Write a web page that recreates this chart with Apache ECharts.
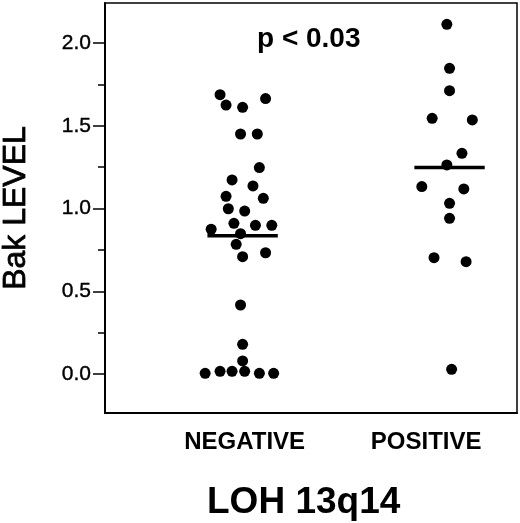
<!DOCTYPE html>
<html>
<head>
<meta charset="utf-8">
<script src="https://cdn.jsdelivr.net/npm/echarts@6/dist/echarts.min.js"></script>
<style>html,body{margin:0;padding:0;background:#fff}#c{width:520px;height:523px}</style>
</head>
<body>
<div id="c"></div>
<script>
// ---- data ----
var categories = ['NEGATIVE', 'POSITIVE'];
var negValues = [1.689,1.626,1.612,1.665,1.451,1.451,1.248,1.173,1.137,1.074,1.062,0.999,0.985,0.875,0.911,0.899,0.899,0.848,0.784,0.709,0.733,0.417,0.179,0.079,0.004,0.016,0.016,0.016,0.004,0.004];
var negJitter = [-0.109,-0.080,0,0.111,-0.010,0.071,0.081,-0.051,0.050,-0.080,0.100,-0.069,0.010,-0.152,-0.042,0.062,0.141,-0.010,-0.031,0,0.111,-0.010,0,0,-0.181,-0.109,-0.051,0.010,0.081,0.150];
var posValues = [2.114,1.848,1.713,1.546,1.536,1.334,1.264,1.133,1.119,1.032,0.941,0.703,0.679,0.028];
var posJitter = [-0.013,0,0,-0.084,0.110,0.060,-0.013,-0.134,0.069,0,0,-0.075,0.080,0.010];
var medians = [0.836, 1.248];
var yMajorTicks = [0, 0.5, 1.0, 1.5, 2.0];
var yMinorTicks = [0.25, 0.75, 1.25, 1.75];
var pText = 'p < 0.03';
var xTitle = 'LOH 13q14';
var yTitle = 'Bak LEVEL';

// ---- layout constants ----
var groupPos = [1, 2];
var labelPos = [1.01, 1.887];
var medianHalf = 0.17;

function pts(vals, jit, g) {
  return vals.map(function (v, i) { return [groupPos[g] + jit[i], v]; });
}
function med(g) {
  return [[groupPos[g] - medianHalf, medians[g]], [groupPos[g] + medianHalf, medians[g]]];
}

var chart = echarts.init(document.getElementById('c'));
chart.setOption({
  animation: false,
  grid: { left: 105, right: 3, top: 3, bottom: 110, containLabel: false, outerBoundsMode: 'none',
    show: true, borderColor: '#000', borderWidth: 1.5, backgroundColor: 'transparent' },
  xAxis: {
    type: 'value', min: 0.335, max: 2.326,
    axisLine: { show: true, onZero: false, lineStyle: { color: '#000', width: 2 } },
    axisTick: { show: false },
    splitLine: { show: false },
    axisLabel: {
      customValues: labelPos,
      margin: 17,
      fontFamily: 'Liberation Sans', fontWeight: 'bold', fontSize: 24, color: '#000',
      formatter: function (v) { return v < 1.5 ? categories[0] : categories[1]; }
    }
  },
  yAxis: [{
    type: 'value', min: -0.236, max: 2.243,
    axisLine: { show: true, onZero: false, lineStyle: { color: '#000', width: 2 } },
    axisTick: { show: true, customValues: yMajorTicks, length: 12, lineStyle: { color: '#000', width: 1.5 } },
    splitLine: { show: false },
    axisLabel: { customValues: yMajorTicks, margin: 14, fontFamily: 'Liberation Sans', fontSize: 21, color: '#000',
      textBorderColor: '#000', textBorderWidth: 0.4,
      formatter: function (v) { return v.toFixed(1); } },
    name: yTitle, nameLocation: 'middle', nameGap: 73,
    nameTextStyle: { fontFamily: 'Liberation Sans', fontSize: 32, color: '#000', textBorderColor: '#000', textBorderWidth: 0.8 }
  }, {
    type: 'value', min: -0.236, max: 2.243, position: 'left', offset: 0,
    axisLine: { show: false, onZero: false },
    axisTick: { show: true, customValues: yMinorTicks, length: 7, lineStyle: { color: '#000', width: 1.5 } },
    axisLabel: { show: false },
    splitLine: { show: false }
  }],
  graphic: [
    { type: 'text', left: 257, top: 25, style: { text: pText, font: 'bold 28px "Liberation Sans"', fill: '#000' } },
    { type: 'text', left: 207, top: 484, style: { text: xTitle, font: 'bold 37px "Liberation Sans"', fill: '#000' } }
  ],
  series: [
    { type: 'scatter', data: pts(negValues, negJitter, 0), symbolSize: 11, itemStyle: { color: '#000', opacity: 1 } },
    { type: 'scatter', data: pts(posValues, posJitter, 1), symbolSize: 11, itemStyle: { color: '#000', opacity: 1 } },
    { type: 'line', data: med(0), symbol: 'none', lineStyle: { color: '#000', width: 3.5 } },
    { type: 'line', data: med(1), symbol: 'none', lineStyle: { color: '#000', width: 3.5 } }
  ]
});
</script>
</body>
</html>
